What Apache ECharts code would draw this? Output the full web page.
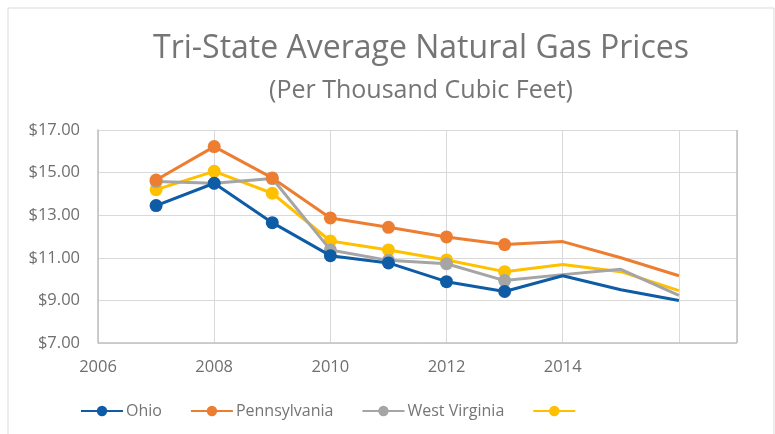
<!DOCTYPE html>
<html><head><meta charset="utf-8">
<script src="https://cdn.jsdelivr.net/npm/echarts@6/dist/echarts.min.js"></script>
<style>html,body{margin:0;padding:0;background:#fff}#c{width:775px;height:434px}</style>
</head><body><div id="c"></div>
<script>
const years = [2007, 2008, 2009, 2010, 2011, 2012, 2013, 2014, 2015, 2016];
const ohio = [13.45, 14.50, 12.65, 11.10, 10.76, 9.88, 9.42, 10.16, 9.50, 9.00];
const pennsylvania = [14.65, 16.22, 14.75, 12.87, 12.43, 11.98, 11.62, 11.76, 11.00, 10.16];
const westVirginia = [14.58, 14.50, 14.72, 11.37, 10.88, 10.72, 9.93, 10.21, 10.46, 9.24];
const unnamed = [14.20, 15.06, 14.03, 11.79, 11.37, 10.90, 10.35, 10.69, 10.35, 9.46];
const seriesNames = ['Ohio', 'Pennsylvania', 'West Virginia', ' '];
const lastMarkerYear = 2013;

const colors = ['#0E5CA5', '#ED7D31', '#A5A5A5', '#FFC000'];
const values = [ohio, pennsylvania, westVirginia, unnamed];

function build(vals) {
  return years.map((y, i) => y <= lastMarkerYear ? [y, vals[i]] : {value: [y, vals[i]], symbol: 'none'});
}

const chart = echarts.init(document.getElementById('c'), null, {renderer: 'canvas'});
chart.setOption({
  animation: false,
  color: colors,
  graphic: [{type: 'rect', shape: {x: 8, y: 8, width: 766, height: 440}, style: {fill: 'none', stroke: '#D9D9D9', lineWidth: 1}}],
  title: [
    {text: 'Tri-State Average Natural Gas Prices', left: 416, textAlign: 'center', top: 28,
     textStyle: {fontFamily: 'Open Sans', fontWeight: 'normal', fontSize: 32, color: '#757575'}},
    {text: '(Per Thousand Cubic Feet)', left: 416, textAlign: 'center', top: 73,
     textStyle: {fontFamily: 'Open Sans', fontWeight: 'normal', fontSize: 25, color: '#757575'}}
  ],
  legend: {
    data: seriesNames, left: 75, top: 398, itemWidth: 42, itemHeight: 13, itemGap: 28,
    textStyle: {fontFamily: 'Open Sans', fontSize: 16, color: '#757575', padding: [0, 0, 0, -2]}
  },
  grid: {left: 98, top: 130, right: 38, bottom: 91},
  xAxis: {
    type: 'value', min: 2006, max: 2017, interval: 2,
    axisLine: {show: false},
    axisTick: {show: false},
    splitLine: {show: true, lineStyle: {color: '#D9D9D9', width: 1}},
    axisLabel: {margin: 16, fontFamily: 'Open Sans', fontSize: 16.5, color: '#6F6F6F', showMaxLabel: false,
      formatter: v => v > 2014 ? '' : String(v)}
  },
  yAxis: {
    type: 'value', min: 7, max: 17, interval: 2,
    axisLine: {show: true, lineStyle: {color: '#BFBFBF', width: 1.5}},
    axisTick: {show: false},
    splitLine: {show: true, lineStyle: {color: '#D9D9D9', width: 1}},
    axisLabel: {margin: 18, fontFamily: 'Open Sans', fontSize: 16.5, color: '#6F6F6F',
      formatter: v => '$' + v.toFixed(2)}
  },
  series: values.map((vals, k) => ({
    name: seriesNames[k], type: 'line', data: build(vals),
    symbol: 'circle', symbolSize: 13,
    lineStyle: {width: 3, color: colors[k]},
    itemStyle: {color: colors[k]},
    z: 10 - k
  })).concat([{
    type: 'line', data: [[2017, 7], [2017, 17]], symbol: 'none', silent: true,
    lineStyle: {color: '#BFBFBF', width: 1.5}
  }, {
    type: 'line', data: [[2006, 7], [2017, 7]], symbol: 'none', silent: true,
    lineStyle: {color: '#BFBFBF', width: 1.5}
  }])
});
</script></body></html>
